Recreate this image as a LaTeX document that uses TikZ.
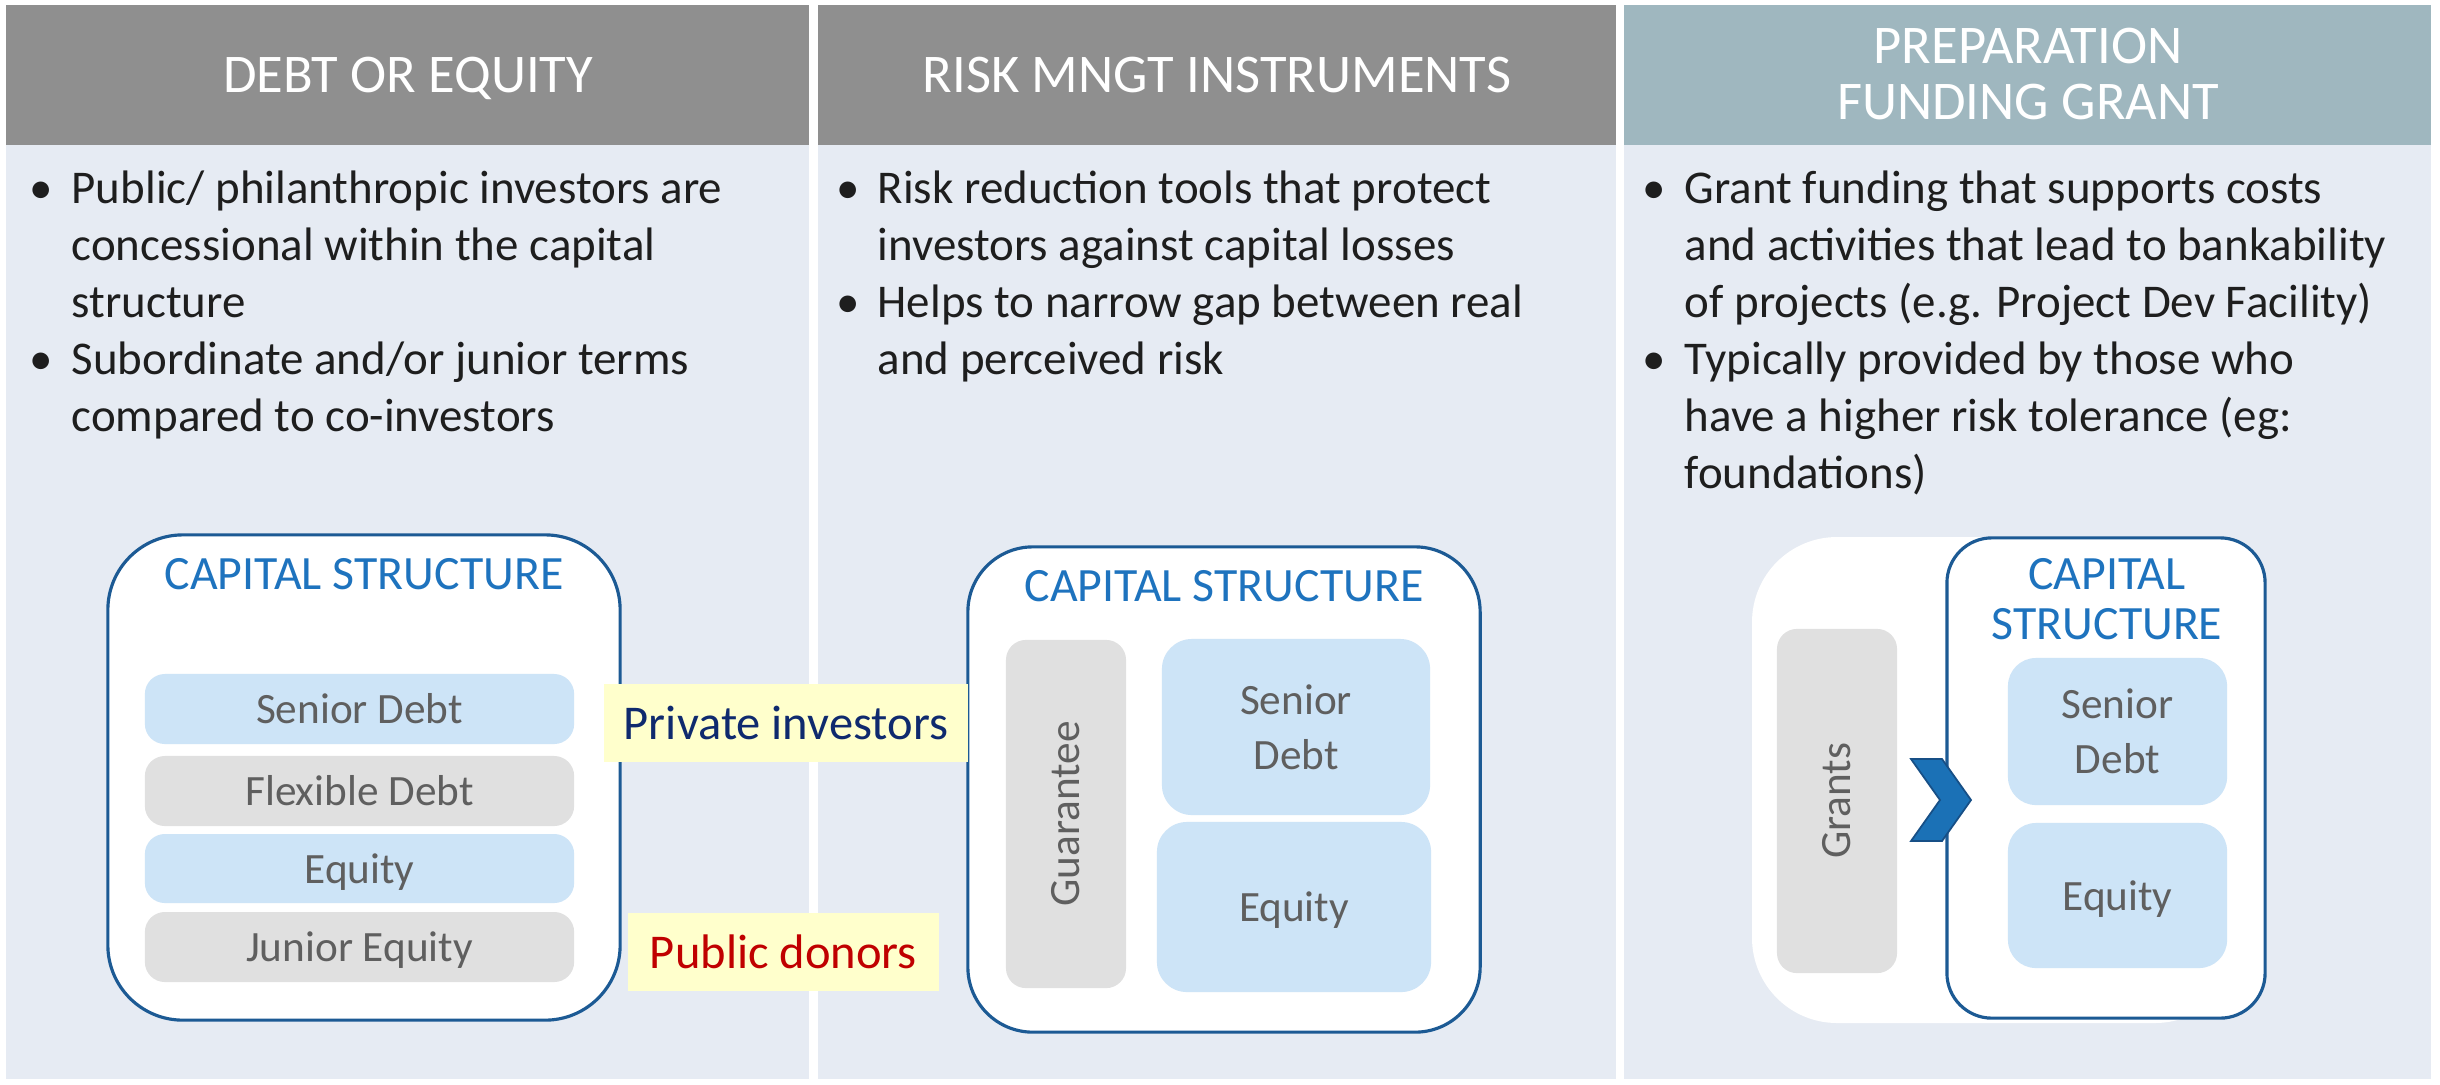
\documentclass[tikz,border=0pt]{standalone}
\usepackage{fontspec}
\setmainfont{Carlito}
\usetikzlibrary{positioning}

\definecolor{hdgrey}{HTML}{8F8F8F}
\definecolor{hdteal}{HTML}{9FB7BF}
\definecolor{panelbg}{HTML}{E6EBF3}
\definecolor{capblue}{HTML}{1E73BE}
\definecolor{capline}{HTML}{1C5A94}
\definecolor{tierblue}{HTML}{CDE4F7}
\definecolor{tiergrey}{HTML}{E0E0E0}
\definecolor{tiertext}{HTML}{5F5F5F}
\definecolor{notebg}{HTML}{FFFFCC}
\definecolor{privnavy}{HTML}{0F2A6E}
\definecolor{pubred}{HTML}{C00000}
\definecolor{bodytext}{HTML}{1E1E1E}
\definecolor{chevfill}{HTML}{1B71B6}
\definecolor{chevline}{HTML}{174F86}

\tikzset{
	colhead/.style={text=white, font=\fontsize{15.5}{18}\selectfont, anchor=base, inner sep=0pt},
	bodyline/.style={text=bodytext, font=\fontsize{13.35}{16}\selectfont, anchor=base west, inner sep=0pt},
	bulletmark/.style={text=bodytext, font=\fontsize{13.35}{16}\selectfont, anchor=base, inner sep=0pt},
	capbox/.style={draw=capline, line width=0.9pt, fill=white, inner sep=0pt},
	captitle/.style={text=capblue, font=\fontsize{13.6}{16}\selectfont, anchor=base, inner sep=0pt},
	tierbox/.style={rounded corners=#1, text=tiertext, font=\fontsize{12.3}{15.6}\selectfont, align=center, inner sep=0pt},
	nodepth/.style={text depth=0pt},
	notebox/.style={fill=notebg, font=\fontsize{13.8}{16}\selectfont, inner sep=0pt}
}

\begin{document}
\begin{tikzpicture}[x=0.01cm, y=-0.01cm]
	\fill[white] (0,0) rectangle (2440,1084);
	\useasboundingbox (0,0) rectangle (2440,1084);

	% three columns
	\fill[panelbg] (6,145) rectangle (809,1079);
	\fill[panelbg] (818,145) rectangle (1616,1079);
	\fill[panelbg] (1624,145) rectangle (2431,1079);
	\fill[hdgrey] (6,5) rectangle (809,145);
	\fill[hdgrey] (818,5) rectangle (1616,145);
	\fill[hdteal] (1624,5) rectangle (2431,145);

	\node[colhead] (headdebt) at (408,92) {DEBT OR EQUITY};
	\node[colhead] (headrisk) at (1217,92) {RISK MNGT INSTRUMENTS};
	\node[colhead] (headprepA) at (2028,63) {PREPARATION};
	\node[colhead] (headprepB) at (2028,119) {FUNDING GRANT};

	% bullet texts
	\foreach \txt [count=\i] in {Public/ philanthropic investors are, concessional within the capital, structure, Subordinate and/or junior terms, compared to co-investors}
		\node[bodyline] (debt\i) at (71,{203+57*(\i-1)}) {\txt};
	\node[bulletmark] (debtdotA) at (41,203) {•};
	\node[bulletmark] (debtdotB) at (41,374) {•};

	\foreach \txt [count=\i] in {Risk reduction tools that protect, investors against capital losses, Helps to narrow gap between real, and perceived risk}
		\node[bodyline] (risk\i) at (877,{203+57*(\i-1)}) {\txt};
	\node[bulletmark] (riskdotA) at (848,203) {•};
	\node[bulletmark] (riskdotB) at (848,317) {•};

	\foreach \txt [count=\i] in {Grant funding that supports costs, and activities that lead to bankability, of projects (e.g. Project Dev Facility), Typically provided by those who, have a higher risk tolerance (eg:, foundations)}
		\node[bodyline] (prep\i) at (1684,{203+57*(\i-1)}) {\txt};
	\node[bulletmark] (prepdotA) at (1654,203) {•};
	\node[bulletmark] (prepdotB) at (1654,374) {•};

	% capital structure, debt or equity
	\node[capbox, rounded corners=0.75cm, minimum width=5.12cm, minimum height=4.85cm] (capA) at (364,777.5) {};
	\node[captitle] (capAtitle) at (364,589) {CAPITAL STRUCTURE};
	\node[tierbox=0.2cm, fill=tierblue, minimum width=4.29cm, minimum height=0.7cm] (seniorA) at (359.5,709) {Senior Debt};
	\node[tierbox=0.2cm, fill=tiergrey, minimum width=4.29cm, minimum height=0.7cm] (flexA) at (359.5,791) {Flexible Debt};
	\node[tierbox=0.2cm, nodepth, fill=tierblue, minimum width=4.29cm, minimum height=0.69cm] (equityA) at (359.5,868.5) {Equity};
	\node[tierbox=0.2cm, nodepth, fill=tiergrey, minimum width=4.29cm, minimum height=0.7cm] (juniorA) at (359.5,947) {Junior Equity};

	% capital structure, risk instruments
	\node[capbox, rounded corners=0.65cm, minimum width=5.12cm, minimum height=4.85cm] (capB) at (1224,789.5) {};
	\node[captitle] (capBtitle) at (1224,601) {CAPITAL STRUCTURE};
	\node[tierbox=0.2cm, fill=tiergrey, rotate=90, minimum width=3.48cm, minimum height=1.2cm] (guarB) at (1066,814) {Guarantee};
	\node[tierbox=0.3cm, fill=tierblue, minimum width=2.68cm, minimum height=1.76cm] (seniorB) at (1296,727) {Senior\\Debt};
	\node[tierbox=0.3cm, nodepth, fill=tierblue, minimum width=2.74cm, minimum height=1.7cm] (equityB) at (1294,907) {Equity};

	\node[notebox, text=privnavy, minimum width=3.64cm, minimum height=0.78cm] (private) at (786,723) {Private investors};
	\node[notebox, text=pubred, minimum width=3.11cm, minimum height=0.78cm] (public) at (783.5,952) {Public donors};

	% grant into capital structure
	\fill[white, rounded corners=0.85cm] (1752,537) rectangle (2240,1023);
	\node[tierbox=0.2cm, fill=tiergrey, rotate=90, minimum width=3.44cm, minimum height=1.2cm] (grants) at (1837,801) {Grants};
	\node[capbox, rounded corners=0.45cm, minimum width=3.18cm, minimum height=4.8cm] (capC) at (2106,778) {};
	\node[captitle] (capCtitleA) at (2107,589) {CAPITAL};
	\node[captitle] (capCtitleB) at (2107,639) {STRUCTURE};
	\node[tierbox=0.28cm, fill=tierblue, minimum width=2.19cm, minimum height=1.47cm] (seniorC) at (2117.5,731.5) {Senior\\Debt};
	\node[tierbox=0.28cm, nodepth, fill=tierblue, minimum width=2.19cm, minimum height=1.45cm] (equityC) at (2117.5,895.5) {Equity};
	\draw[fill=chevfill, draw=chevline, line width=0.5pt] (1911,759) -- (1942,759) -- (1971,800) -- (1942,841) -- (1911,841) -- (1940,800) -- cycle;
\end{tikzpicture}
\end{document}
